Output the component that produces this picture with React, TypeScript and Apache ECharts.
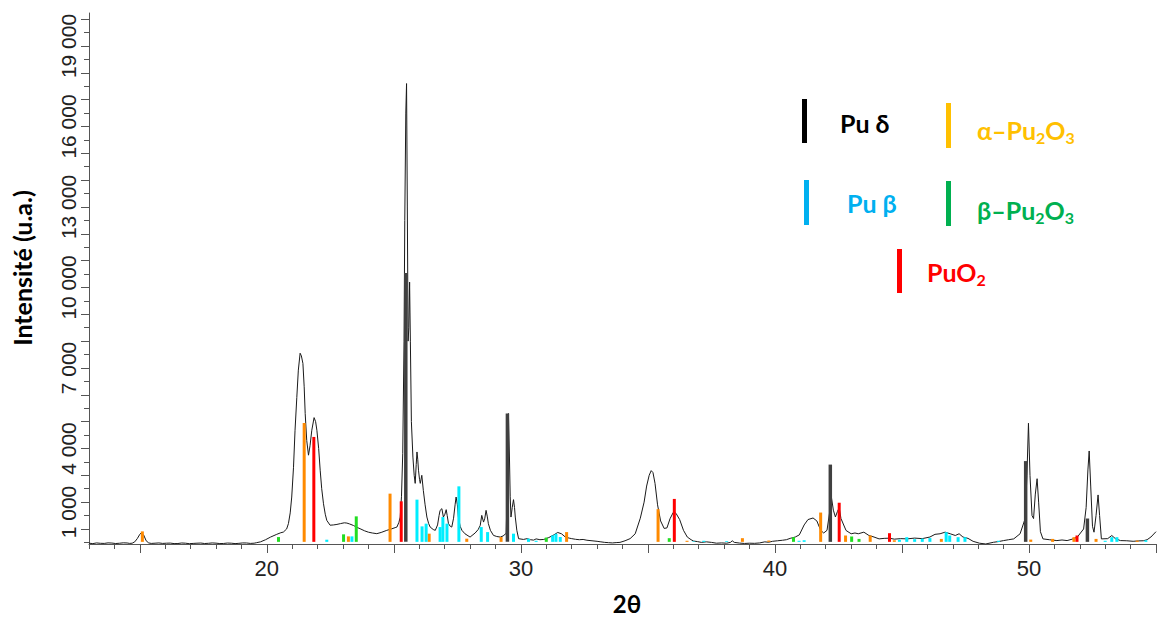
import React, { useEffect, useRef } from "react";
import * as echarts from "echarts";

// Diffraction pattern: [2θ, intensity]
const PATTERN: number[][] = [
  [13.0, 470], [13.15, 455], [13.3, 480], [13.45, 466], [13.6, 462], [13.75, 482], [13.9, 475],
  [14.05, 458], [14.2, 468], [14.35, 484], [14.5, 478], [14.6, 462], [14.7, 470],
  [14.8, 520], [14.9, 640], [15.0, 800], [15.05, 850], [15.15, 780], [15.25, 560], [15.35, 480],
  [15.45, 462], [15.6, 470], [15.75, 480], [15.9, 462], [16.05, 470], [16.2, 474], [16.35, 455],
  [16.5, 458], [16.65, 478], [16.8, 470], [16.95, 452], [17.1, 462], [17.25, 470], [17.4, 476],
  [17.55, 458], [17.7, 466], [17.85, 480], [18.0, 472], [18.15, 456], [18.3, 460], [18.45, 476],
  [18.6, 470], [18.75, 455], [18.9, 465], [19.05, 480], [19.2, 478], [19.35, 462], [19.5, 470],
  [19.6, 490], [19.75, 520], [19.95, 600], [20.15, 700], [20.39, 800], [20.55, 860], [20.65, 884], [20.78, 1000],
  [20.85, 1200], [20.92, 1600], [20.98, 2190], [21.05, 3300], [21.11, 4680], [21.18, 5900],
  [21.24, 6920], [21.31, 7550], [21.36, 7450], [21.42, 7170], [21.47, 6300], [21.51, 5300],
  [21.57, 4300], [21.64, 3750], [21.70, 4100], [21.77, 4680], [21.86, 5150], [21.92, 5000],
  [21.97, 4680], [22.04, 4000], [22.10, 3190], [22.16, 2500], [22.23, 1940], [22.30, 1550],
  [22.36, 1320], [22.49, 1140], [22.62, 1150], [22.76, 1170], [22.9, 1200], [23.05, 1230],
  [23.15, 1220], [23.25, 1190], [23.41, 1130], [23.55, 1060], [23.67, 1010], [23.85, 930],
  [24.0, 880], [24.15, 850], [24.33, 825], [24.5, 870], [24.72, 948], [24.9, 1000], [25.05, 1050],
  [25.12, 1071], [25.2, 1250], [25.25, 1444], [25.30, 2200], [25.35, 3820], [25.40, 8000],
  [25.43, 12500], [25.47, 16500], [25.50, 17600], [25.53, 13000], [25.56, 8000], [25.59, 8500],
  [25.62, 10200], [25.65, 8000], [25.69, 5000], [25.75, 3680], [25.80, 3000], [25.84, 2700],
  [25.88, 3400], [25.91, 3870], [25.94, 3600], [25.97, 3190], [26.01, 2850], [26.04, 2700],
  [26.10, 3000], [26.16, 2440], [26.23, 1900], [26.30, 1444], [26.37, 1200], [26.43, 1071],
  [26.55, 980], [26.63, 948], [26.72, 1150], [26.78, 1500], [26.82, 1694], [26.89, 1757],
  [26.95, 1444], [27.01, 1550], [27.06, 1720], [27.10, 1500], [27.15, 1198], [27.22, 1100],
  [27.28, 1071], [27.35, 1400], [27.41, 1900], [27.45, 2190], [27.50, 1900], [27.54, 1444],
  [27.61, 1100], [27.68, 948], [27.8, 820], [28.0, 698], [28.2, 850], [28.32, 980], [28.40, 1134],
  [28.46, 1507], [28.53, 1257], [28.58, 1400], [28.63, 1694], [28.68, 1450], [28.72, 1198],
  [28.8, 950], [28.92, 761], [29.05, 720], [29.19, 698], [29.3, 740], [29.42, 836], [29.45, 2000],
  [29.47, 3683], [29.51, 5302], [29.55, 3683], [29.58, 2200], [29.61, 1444], [29.66, 1800],
  [29.71, 2093], [29.75, 1800], [29.78, 1444], [29.84, 950], [29.91, 638], [30.1, 610],
  [30.25, 640], [30.37, 601], [30.5, 585], [30.6, 630], [30.75, 600], [30.9, 610], [31.1, 680],
  [31.3, 780], [31.45, 870], [31.6, 820], [31.75, 700], [31.9, 660], [32.0, 640], [32.15, 615],
  [32.3, 600], [32.45, 610], [32.6, 580], [32.8, 560], [33.0, 540], [33.15, 520], [33.3, 500],
  [33.45, 490], [33.6, 480], [33.75, 492], [33.9, 500], [34.1, 560], [34.3, 640], [34.5, 820],
  [34.7, 1400], [34.85, 2000], [34.95, 2600],
  [35.05, 3000], [35.13, 3175], [35.2, 3100], [35.28, 2700], [35.38, 1900], [35.5, 1300],
  [35.64, 1020], [35.75, 1040], [35.87, 1380], [36.0, 1620], [36.04, 1640], [36.12, 1560],
  [36.25, 1350], [36.4, 950], [36.55, 700], [36.7, 600], [36.8, 550], [36.95, 530], [37.1, 500],
  [37.3, 520], [37.5, 500], [37.7, 470], [37.9, 480], [38.1, 470], [38.25, 500], [38.32, 560],
  [38.4, 500], [38.6, 475], [38.8, 460], [39.0, 470], [39.2, 465], [39.4, 480], [39.6, 520],
  [39.75, 505], [39.9, 540], [40.1, 560], [40.3, 580], [40.45, 600], [40.6, 650], [40.8, 700],
  [40.96, 780], [41.15, 1150], [41.3, 1350], [41.5, 1410], [41.65, 1300],
  [41.8, 950], [41.92, 850], [42.05, 950], [42.15, 1600], [42.22, 2205], [42.3, 1700],
  [42.38, 1448], [42.46, 1650], [42.53, 1791], [42.6, 1388], [42.8, 944], [43.0, 821],
  [43.15, 850], [43.28, 821], [43.5, 881], [43.7, 757], [43.9, 700], [44.1, 631], [44.3, 650],
  [44.5, 657], [44.7, 620], [44.95, 640], [45.2, 631], [45.5, 660], [45.8, 640],
  [46.1, 700], [46.3, 800], [46.5, 821], [46.7, 881], [46.9, 821], [47.1, 757], [47.25, 821],
  [47.4, 700], [47.6, 650], [47.8, 540], [48.05, 470], [48.3, 441], [48.6, 504], [48.8, 530],
  [49.0, 567], [49.2, 600], [49.4, 631], [49.65, 821], [49.85, 1388], [49.92, 3000], [49.98, 4940],
  [50.04, 3000], [50.12, 1500], [50.18, 1388], [50.25, 2300], [50.32, 2873], [50.38, 2000],
  [50.45, 900], [50.55, 631], [50.8, 600], [51.1, 567], [51.3, 590], [51.5, 567], [51.7, 620],
  [51.9, 694], [52.15, 1000], [52.25, 1800], [52.32, 3200],
  [52.37, 3907], [52.43, 2600], [52.5, 1100], [52.56, 880], [52.64, 1500], [52.72, 2269],
  [52.78, 1500], [52.85, 630], [53.1, 640], [53.26, 757], [53.4, 640], [53.6, 567], [53.85, 560],
  [54.1, 541], [54.3, 555], [54.5, 560], [54.65, 600], [54.8, 700], [55.0, 900],
];

// Reference sticks: [2θ, intensity]
const STICKS_PU_DELTA: number[][] = [
  [25.47, 10540], [29.47, 5300], [42.18, 3400], [49.87, 3530], [52.30, 1390],
];
const STICKS_ALPHA_PU2O3: number[][] = [
  [15.10, 910], [21.47, 4950], [23.21, 724], [24.85, 2317], [26.39, 825], [27.87, 638],
  [29.22, 698], [31.80, 884], [35.40, 1739], [36.54, 560], [38.72, 657], [39.76, 570],
  [41.80, 1612], [42.78, 757], [43.75, 757], [44.70, 580], [46.55, 630], [50.07, 604],
  [50.93, 630], [51.77, 694], [52.64, 630], [54.26, 567],
];
const STICKS_PU_BETA: number[][] = [
  [15.6, 520], [17.6, 520], [22.36, 600], [23.35, 724], [25.91, 2093], [26.11, 1097],
  [26.27, 1198], [26.82, 1071], [26.93, 1444], [27.09, 1198], [27.56, 2589], [28.44, 1071],
  [28.69, 884], [29.71, 825], [30.30, 638], [30.6, 560], [31.25, 760], [31.38, 820], [31.55, 700],
  [36.8, 540], [37.2, 560], [38.1, 550], [40.95, 560], [41.15, 580], [44.9, 600], [45.19, 694],
  [45.5, 620], [45.8, 640], [46.1, 660], [46.74, 880], [46.88, 757], [47.21, 694], [47.48, 694],
  [48.8, 560], [53.0, 560], [53.26, 694], [53.46, 694], [54.6, 580],
];
const STICKS_BETA_PU2O3: number[][] = [
  [20.46, 698], [23.02, 800], [23.52, 1470], [31.0, 680], [35.84, 657], [40.73, 694],
  [43.02, 720], [43.31, 630],
];
const STICKS_PUO2: number[][] = [
  [21.85, 4430], [25.29, 2030], [36.04, 2120], [42.53, 1978], [44.51, 843], [51.89, 757],
];

const STICK_BASE = 520;

const Y_LABELS = [1000, 4000, 7000, 10000, 13000, 16000, 19000];
const X_LABELS = [20, 30, 40, 50];
const Y_MIN = 440;
const Y_MAX = 20230;
const X_MIN = 13;
const X_MAX = 55;

const range = (a: number, b: number, s: number) => {
  const out: number[] = [];
  for (let v = a; v <= b + 1e-9; v += s) out.push(v);
  return out;
};
const Y_MINOR_TICKS = range(500, 20000, 500);
const Y_MAJOR_TICKS = range(1000, 20000, 1000);
const X_MINOR_TICKS = range(13, 55, 1);
const X_MAJOR_TICKS = range(15, 55, 5);

const fmt = (v: number) => String(v).replace(/\B(?=(\d{3})+(?!\d))/g, " ");

const AXIS_FONT = "'Liberation Sans', Arial, sans-serif";
const TITLE_FONT = "Lato, 'Open Sans', 'DejaVu Sans', sans-serif";

function stickSeries(name: string, data: number[][], color: string, width: number) {
  return {
    name,
    type: "custom",
    xAxisIndex: 0,
    yAxisIndex: 0,
    clip: true,
    z: 3,
    encode: { x: 0, y: 1 },
    data,
    renderItem: (params: any, api: any) => {
      const x = api.value(0);
      const h = api.value(1);
      const top = api.coord([x, h]);
      const bot = api.coord([x, STICK_BASE]);
      return {
        type: "rect",
        shape: { x: top[0] - width / 2, y: top[1], width, height: bot[1] - top[1] },
        style: { fill: color },
      };
    },
  };
}

function legendText(text: string, x: number, y: number, color: string) {
  return {
    type: "text",
    x,
    y,
    style: {
      text,
      fill: color,
      fontSize: 25,
      fontWeight: "bold",
      fontFamily: TITLE_FONT,
      lineHeight: 30,
      align: "left",
      verticalAlign: "middle",
      rich: {
        s: {
          fill: color,
          fontSize: 16,
          fontWeight: "bold",
          fontFamily: TITLE_FONT,
          lineHeight: 16,
          verticalAlign: "bottom",
        },
      },
    },
  };
}

export default function App() {
  const ref = useRef<HTMLDivElement>(null);
  useEffect(() => {
    if (!ref.current) return;
    const chart = echarts.init(ref.current, null, { renderer: "svg" });
    const axisColor = "#555";
    const option: any = {
      animation: false,
      backgroundColor: "#ffffff",
      grid: { left: 89, right: 1, top: 13, bottom: 77 },
      xAxis: [
        {
          type: "value",
          min: X_MIN,
          max: X_MAX,
          splitLine: { show: false },
          axisLine: { show: true, lineStyle: { color: axisColor, width: 1 } },
          axisTick: { show: true, customValues: X_MINOR_TICKS, length: 5, lineStyle: { color: axisColor } },
          axisLabel: {
            customValues: X_LABELS,
            fontSize: 22,
            color: "#222",
            fontFamily: AXIS_FONT,
            margin: 13,
          },
        },
        {
          type: "value",
          min: X_MIN,
          max: X_MAX,
          position: "bottom",
          splitLine: { show: false },
          axisLine: { show: false },
          axisTick: { show: true, customValues: X_MAJOR_TICKS, length: 9, lineStyle: { color: axisColor } },
          axisLabel: { show: false },
        },
      ],
      yAxis: [
        {
          type: "value",
          min: Y_MIN,
          max: Y_MAX,
          splitLine: { show: false },
          axisLine: { show: true, lineStyle: { color: axisColor, width: 1 } },
          axisTick: { show: true, customValues: Y_MINOR_TICKS, length: 5, lineStyle: { color: axisColor } },
          axisLabel: {
            customValues: Y_LABELS,
            rotate: 90,
            fontSize: 21,
            color: "#222",
            fontFamily: AXIS_FONT,
            margin: 10,
            formatter: (v: number) => (v === 1000 ? "{s|" + fmt(v) + "}" : fmt(v)),
            rich: {
              s: { fontSize: 21, color: "#222", fontFamily: AXIS_FONT, padding: [0, 0, 0, 34] },
            },
          },
        },
        {
          type: "value",
          min: Y_MIN,
          max: Y_MAX,
          position: "left",
          splitLine: { show: false },
          axisLine: { show: false },
          axisTick: { show: true, customValues: Y_MAJOR_TICKS, length: 8, lineStyle: { color: axisColor } },
          axisLabel: { show: false },
        },
      ],
      series: [
        {
          name: "pattern",
          type: "line",
          xAxisIndex: 0,
          yAxisIndex: 0,
          data: PATTERN,
          showSymbol: false,
          symbol: "none",
          z: 2,
          lineStyle: { color: "#1a1a1a", width: 1 },
        },
        stickSeries("α–Pu2O3", STICKS_ALPHA_PU2O3, "#FF8A00", 3),
        stickSeries("Pu β", STICKS_PU_BETA, "#00EEFF", 3),
        stickSeries("β–Pu2O3", STICKS_BETA_PU2O3, "#22DD22", 3),
        stickSeries("PuO2", STICKS_PUO2, "#FF0000", 3),
        stickSeries("Pu δ", STICKS_PU_DELTA, "#404040", 3.5),
      ],
      graphic: [
        {
          type: "text",
          x: 22,
          y: 268,
          rotation: Math.PI / 2,
          style: {
            text: "Intensité (u.a.)",
            fill: "#000",
            fontSize: 25,
            fontWeight: "bold",
            fontFamily: TITLE_FONT,
            align: "center",
            verticalAlign: "middle",
          },
        },
        {
          type: "text",
          x: 627,
          y: 603,
          style: {
            text: "2θ",
            fill: "#000",
            fontSize: 24,
            fontWeight: "bold",
            fontFamily: TITLE_FONT,
            align: "center",
            verticalAlign: "middle",
          },
        },
        { type: "rect", shape: { x: 802, y: 99, width: 5, height: 44 }, style: { fill: "#000000" } },
        legendText("Pu δ", 840, 123, "#000000"),
        { type: "rect", shape: { x: 946, y: 103, width: 5, height: 45 }, style: { fill: "#FFC000" } },
        legendText("α–Pu{s|2}O{s|3}", 977, 130, "#FFC000"),
        { type: "rect", shape: { x: 804, y: 180, width: 5, height: 45 }, style: { fill: "#00B0F0" } },
        legendText("Pu β", 847, 203, "#00B0F0"),
        { type: "rect", shape: { x: 946, y: 181, width: 5, height: 45 }, style: { fill: "#00B050" } },
        legendText("β–Pu{s|2}O{s|3}", 977, 210, "#00B050"),
        { type: "rect", shape: { x: 897, y: 249, width: 5, height: 44 }, style: { fill: "#FF0000" } },
        legendText("PuO{s|2}", 927, 272, "#FF0000"),
      ],
    };
    chart.setOption(option);
    return () => chart.dispose();
  }, []);
  return (
    <div
      ref={ref}
      style={{ position: "fixed", left: 0, top: 0, width: 1157, height: 621, background: "#fff" }}
    />
  );
}
